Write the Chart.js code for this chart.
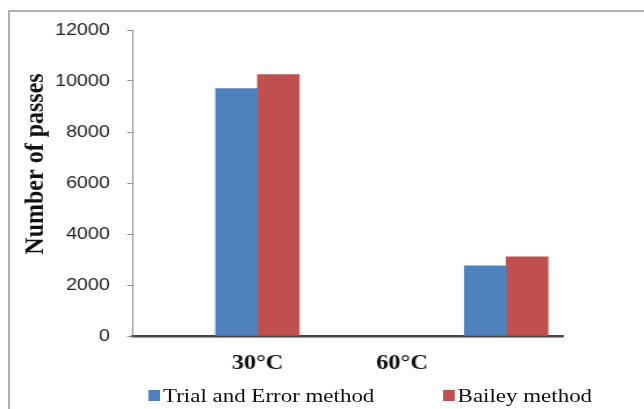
<!DOCTYPE html>
<html>
<head>
<meta charset="utf-8">
<script src="https://cdn.jsdelivr.net/npm/chart.js@4"></script>
<style>
    html, body { margin: 0; padding: 0; background: #fff; overflow: hidden; }
    body { width: 644px; height: 409px; position: relative; }
    #frame { position: absolute; left: 8px; top: 10px; width: 700px; height: 500px;
             border-left: 2px solid #b0b0b0; border-top: 2px solid #b0b0b0; }
    /* the picture is stretched sideways, so draw narrow and widen */
    #wrap { position: absolute; left: 0; top: 0; width: 555px; height: 409px;
            transform: scaleX(1.16); transform-origin: 0 0; }
    #legend { position: absolute; top: 386px; left: 0; width: 555px; height: 26px;
              font-family: "Liberation Serif", serif; font-size: 19.8px; color: #111; line-height: 1; }
    .item { position: absolute; top: 0; display: flex; align-items: center; white-space: nowrap; }
    .box { width: 9.5px; height: 11px; margin-right: 3px; }
</style>
</head>
<body>
<div id="frame"></div>
<div id="wrap">
    <canvas id="chart"></canvas>
    <div id="legend"></div>
</div>
<script>
const categories = ['30°C', '60°C'];
const trialError = [9700, 2750];
const bailey = [10250, 3100];
const yTicks = [0, 2000, 4000, 6000, 8000, 10000, 12000];
const groupPos = [1, 2.72];  // x value of each bar group
const labelPos = [1, 2];     // x value of each category label

const seriesNames = ['Trial and Error method', 'Bailey method'];
const seriesColors = ['#4F81BD', '#C0504D'];
const yTitle = 'Number of passes';

const serif = 'Liberation Serif';

function points(values) {
    return values.map((v, i) => ({ x: groupPos[i], y: v }));
}

// y title sits higher than the middle of the axis in the picture, so place it by hand
const yTitlePlugin = {
    id: 'yTitle',
    afterDraw(chart) {
        const c = chart.ctx;
        c.save();
        c.translate(31, 164);
        c.rotate(-Math.PI / 2);
        c.font = `bold 24px "${serif}"`;
        c.fillStyle = '#111';
        c.textAlign = 'center';
        c.textBaseline = 'middle';
        c.fillText(yTitle, 0, 0);
        c.restore();
    }
};

const ctx = document.getElementById('chart').getContext('2d');
new Chart(ctx, {
    type: 'bar',
    data: {
        datasets: [
            { label: seriesNames[0], data: points(trialError), backgroundColor: seriesColors[0], barThickness: 36 },
            { label: seriesNames[1], data: points(bailey), backgroundColor: seriesColors[1], barThickness: 36 }
        ]
    },
    options: {
        responsive: true,
        maintainAspectRatio: false,
        animation: false,
        layout: { padding: { left: 13, right: 70, top: 30, bottom: 0 } },
        plugins: {
            legend: { display: false },
            tooltip: { enabled: false }
        },
        scales: {
            x: {
                type: 'linear',
                min: 0.14,
                max: 3.11,
                offset: false,
                z: 1,
                afterBuildTicks: (scale) => { scale.ticks = labelPos.map(v => ({ value: v })); },
                afterFit: (scale) => { scale.height = 73; },
                ticks: {
                    callback: (v, i) => categories[i],
                    font: { family: serif, size: 21, weight: 'bold' },
                    color: '#111',
                    padding: 15,
                    maxRotation: 0,
                    autoSkip: false
                },
                grid: { display: false, drawTicks: false },
                border: { color: '#444', width: 2.5 }
            },
            y: {
                min: 0,
                max: 12000,
                afterBuildTicks: (scale) => { scale.ticks = yTicks.map(v => ({ value: v })); },
                afterFit: (scale) => { scale.width = 101.7; },
                ticks: {
                    callback: (v) => String(v),
                    font: { family: 'Liberation Sans', size: 17 },
                    color: '#222',
                    padding: 15
                },
                grid: { drawOnChartArea: false, tickLength: 5, color: '#8c8c8c' },
                border: { color: '#8c8c8c', width: 1 }
            }
        }
    },
    plugins: [yTitlePlugin]
});

// legend drawn as html so the two items can sit where the picture has them
const legendLeft = [128, 382];
document.getElementById('legend').innerHTML = seriesNames.map((name, i) => `
    <div class="item" style="left:${legendLeft[i]}px">
        <span class="box" style="background:${seriesColors[i]}"></span>
        <span>${name}</span>
    </div>
`).join('');
</script>
</body>
</html>
